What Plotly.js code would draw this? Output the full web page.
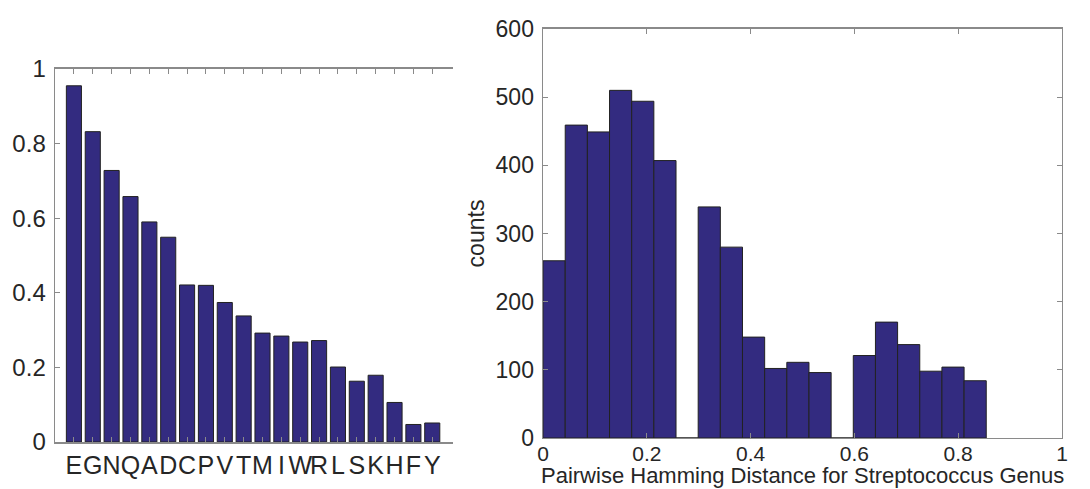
<!DOCTYPE html>
<html>
<head>
<meta charset="utf-8">
<script src="https://cdn.plot.ly/plotly-3.0.1.min.js"></script>
<style>html,body{margin:0;padding:0;background:#fff;}#chart{width:1090px;height:489px;}</style>
</head>
<body>
<div id="chart"></div>
<script>
// Left panel: per-residue values (sorted)
const residues = ["E","G","N","Q","A","D","C","P","V","T","M","I","W","R","L","S","K","H","F","Y"];
const residueValues = [0.955,0.832,0.728,0.658,0.590,0.549,0.421,0.420,0.374,0.338,0.292,0.284,0.268,0.272,0.201,0.163,0.179,0.106,0.047,0.051];
const residuePositions = [1,2,3,4,5,6,7,8,9,10,11,12,13,14,15,16,17,18,19,20];

// Right panel: histogram of pairwise Hamming distance
const binCenters = [0.0214,0.0641,0.1068,0.1495,0.1922,0.2349,0.2776,0.3203,0.3630,0.4057,0.4484,0.4911,0.5338,0.5765,0.6192,0.6619,0.7046,0.7473,0.7900,0.8327];
const binCounts = [260,459,449,510,494,407,0,339,280,148,102,111,96,0,121,170,137,98,104,84];
const binWidth = 0.0427;
const yTicksLeft = [0,0.2,0.4,0.6,0.8,1];
const xTicksRight = [0,0.2,0.4,0.6,0.8,1];
const yTicksRight = [0,100,200,300,400,500,600];
const xTitleRight = 'Pairwise Hamming Distance for Streptococcus Genus';

const barColor = '#332b80';
const edgeColor = '#222222';
const axisColor = '#8a8a8a';
const textColor = '#262626';
const fontFam = '"Liberation Sans", Arial, Helvetica, sans-serif';

const traces = [
  {type:'bar', x: residuePositions, y: residueValues, width: 0.8,
   marker:{color:barColor, line:{color:edgeColor, width:1}},
   xaxis:'x', yaxis:'y', hoverinfo:'none'},
  {type:'bar', x: binCenters, y: binCounts, width: binWidth,
   marker:{color:barColor, line:{color:edgeColor, width:1}},
   xaxis:'x2', yaxis:'y2', hoverinfo:'none'}
];

const common = {showgrid:false, zeroline:false, showline:true, linecolor:axisColor, linewidth:1.5,
  ticks:'inside', ticklen:5, tickwidth:1, tickcolor:axisColor,
  tickfont:{family:fontFam, size:23, color:textColor}};

const layout = {
  width:1090, height:489, margin:{l:0,r:0,t:0,b:0},
  paper_bgcolor:'#fff', plot_bgcolor:'#fff', showlegend:false,
  font:{family:fontFam, color:textColor},
  xaxis: Object.assign({}, common, {domain:[0.0505,0.4156], range:[0,21.1], tickmode:'array',
    tickvals: residuePositions, ticktext: residues, tickangle:0, mirror:'ticks', ticklabelstandoff:0,
    tickfont:{family:fontFam, size:25, color:textColor}, anchor:'y'}),
  yaxis: Object.assign({}, common, {domain:[0.0961,0.8589], range:[0,1], tickmode:'array',
    tickvals: yTicksLeft, mirror:false, anchor:'x', ticklabelstandoff:3, tickfont:{family:fontFam, size:24, color:textColor}}),
  xaxis2: Object.assign({}, common, {domain:[0.4982,0.9743], range:[0,1], tickmode:'array',
    tickvals: xTicksRight, tickangle:0, mirror:'ticks', anchor:'y2', ticklabelstandoff:-4,
    tickfont:{family:fontFam, size:21, color:textColor}}),
  yaxis2: Object.assign({}, common, {domain:[0.1043,0.9407], range:[0,600], tickmode:'array',
    tickvals: yTicksRight, mirror:'ticks', anchor:'x2', ticklabelstandoff:3,
    title:{text:'counts', font:{family:fontFam, size:23, color:textColor}, standoff:4}}),
  annotations:[{text:xTitleRight, xref:'paper', yref:'paper', x:0.7362, y:0,
    xanchor:'center', yanchor:'bottom', showarrow:false, borderpad:0,
    font:{family:fontFam, size:22, color:textColor}}],
  bargap:0
};

Plotly.newPlot('chart', traces, layout, {displayModeBar:false, staticPlot:true});
</script>
</body>
</html>
